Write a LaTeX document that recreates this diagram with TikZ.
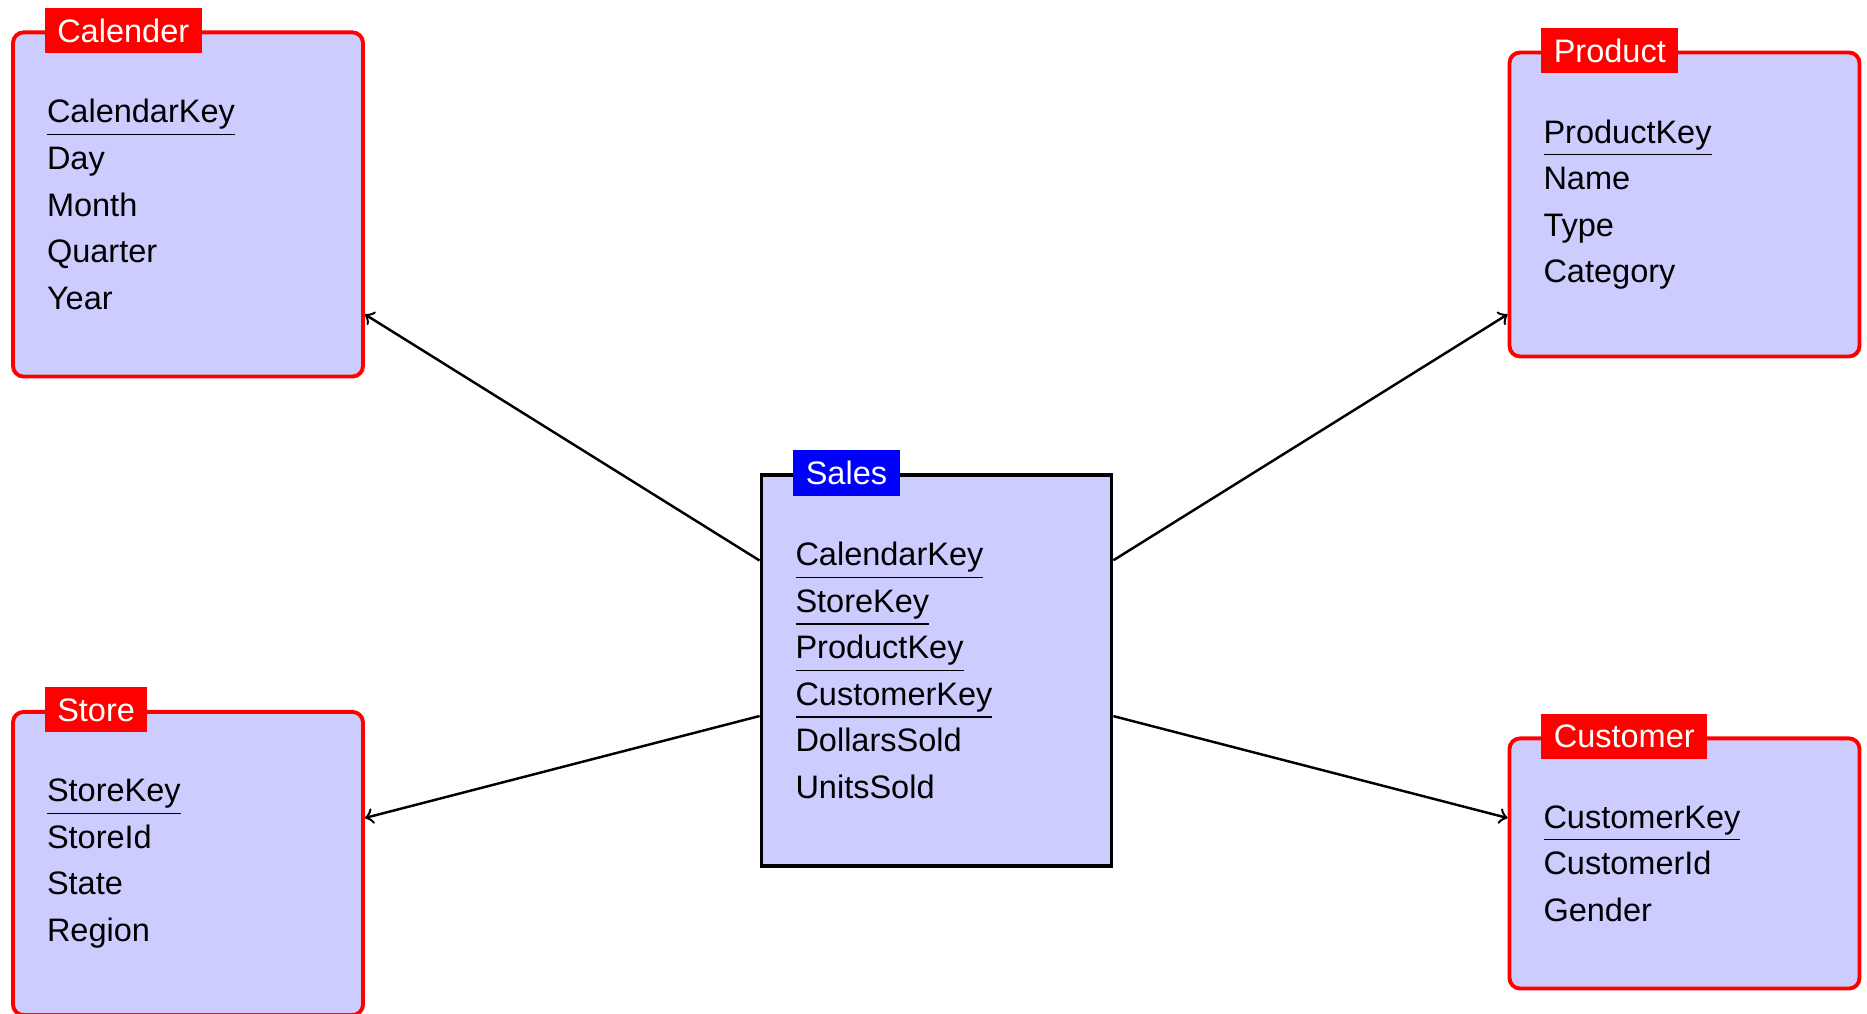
\documentclass[tikz,border=0pt]{standalone}
\usepackage{fontspec}
\setmainfont{Liberation Sans}
\usepackage{tikz}
\usetikzlibrary{positioning}
\definecolor{TableFill}{HTML}{CCCCFF}

\tikzset{
    dimtable/.style={draw=red, line width=1.1pt, rounded corners=3pt, fill=TableFill,
        text width=2.82cm, inner xsep=0.34cm, inner ysep=0.67cm, align=left,
        font=\fontsize{9.25}{13.25}\selectfont},
    facttable/.style={dimtable, draw=black, sharp corners},
    dimtitle/.style={fill=red, text=white, inner xsep=0.125cm, inner ysep=0.11cm,
        anchor=west, font=\fontsize{9.25}{13.25}\selectfont},
    facttitle/.style={dimtitle, fill=blue},
    link/.style={->, line width=0.7pt}
}

\begin{document}
\begin{tikzpicture}

\useasboundingbox (0,0) rectangle (18.67,10.14);

% fact table in the middle
\node[facttable] (sales) at (9.365, 3.435)
    {\underline{CalendarKey}\\ \underline{StoreKey}\\ \underline{ProductKey}\\
     \underline{CustomerKey}\\ DollarsSold\\ UnitsSold};
\node[facttitle] (salestitle) at ([xshift=0.33cm]sales.north west) {Sales};

% dimension tables
\node[dimtable] (calender) at (1.88, 8.095)
    {\underline{CalendarKey}\\ Day\\ Month\\ Quarter\\ Year};
\node[dimtitle] (calendertitle) at ([xshift=0.33cm]calender.north west) {Calender};

\node[dimtable] (product) at (16.845, 8.095)
    {\underline{ProductKey}\\ Name\\ Type\\ Category};
\node[dimtitle] (producttitle) at ([xshift=0.33cm]product.north west) {Product};

\node[dimtable] (store) at (1.88, 1.505)
    {\underline{StoreKey}\\ StoreId\\ State\\ Region};
\node[dimtitle] (storetitle) at ([xshift=0.33cm]store.north west) {Store};

\node[dimtable] (customer) at (16.845, 1.505)
    {\underline{CustomerKey}\\ CustomerId\\ Gender};
\node[dimtitle] (customertitle) at ([xshift=0.33cm]customer.north west) {Customer};

\draw[link] (sales) -- (calender);
\draw[link] (sales) -- (product);
\draw[link] (sales) -- (store);
\draw[link] (sales) -- (customer);

\end{tikzpicture}
\end{document}
